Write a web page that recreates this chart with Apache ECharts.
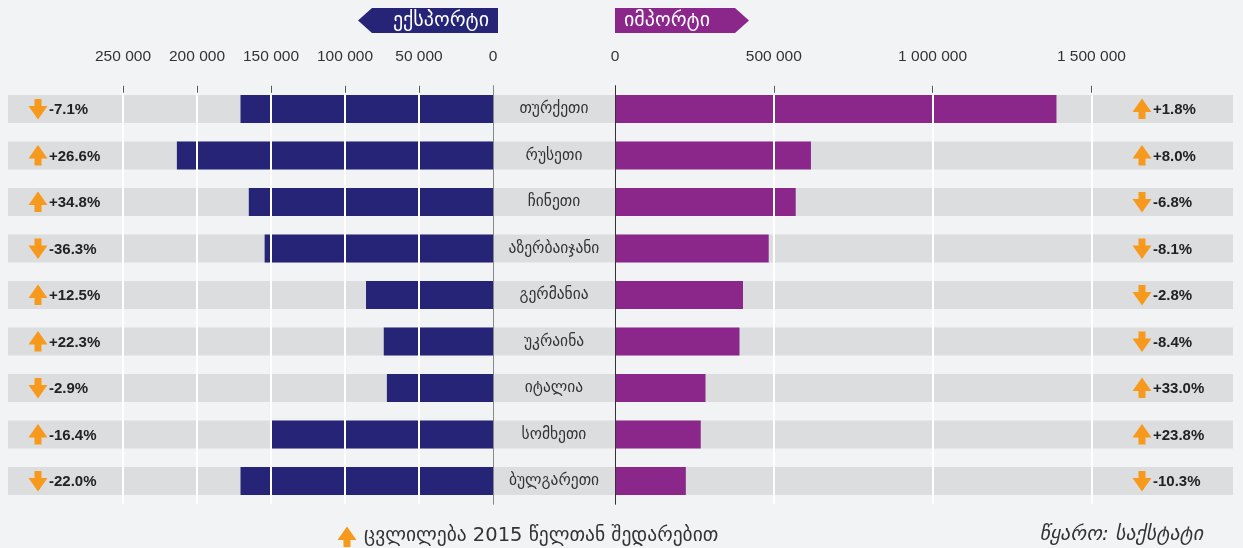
<!DOCTYPE html>
<html>
<head>
<meta charset="utf-8">
<script src="https://cdn.jsdelivr.net/npm/echarts@6/dist/echarts.min.js"></script>
<style>
html, body { margin: 0; padding: 0; background: #f2f3f5; }
#chart { width: 1243px; height: 548px; }
</style>
</head>
<body>
<div id="chart"></div>
<script>
// data
var countries = ['თურქეთი', 'რუსეთი', 'ჩინეთი', 'აზერბაიჯანი', 'გერმანია', 'უკრაინა', 'იტალია', 'სომხეთი', 'ბულგარეთი'];
var exportValues = [170600, 213600, 165000, 154300, 85800, 73800, 71700, 149500, 170600];
var importValues = [1390000, 617000, 569000, 484000, 403000, 392000, 285000, 270000, 223000];
var exportChange = ['-7.1%', '+26.6%', '+34.8%', '-36.3%', '+12.5%', '+22.3%', '-2.9%', '-16.4%', '-22.0%'];
var exportArrow = ['down', 'up', 'up', 'down', 'up', 'up', 'down', 'up', 'down'];
var importChange = ['+1.8%', '+8.0%', '-6.8%', '-8.1%', '-2.8%', '-8.4%', '+33.0%', '+23.8%', '-10.3%'];
var importArrow = ['up', 'up', 'down', 'down', 'down', 'down', 'up', 'up', 'down'];

var NAVY = '#262477';
var PURPLE = '#8b268b';
var ORANGE = '#f7991c';
var ROW = '#dcdddf';
var NUM_FONT = '"Liberation Sans", Arial, sans-serif';
var GEO_FONT = '"DejaVu Sans", sans-serif';

var gridTop = 85.75;
var gridHeight = 418.5;

function fmt(v) {
    return String(v).replace(/\B(?=(\d{3})+(?!\d))/g, ' ');
}

// orange up / down arrow around a centre point
function arrowPoints(cx, cy, dir) {
    var s = dir === 'up' ? 1 : -1;
    return [
        [cx, cy - 10.5 * s], [cx + 9.5, cy + 3 * s], [cx + 3.5, cy + 3 * s],
        [cx + 3.5, cy + 10 * s], [cx - 3.5, cy + 10 * s], [cx - 3.5, cy + 3 * s],
        [cx - 9.5, cy + 3 * s]
    ];
}

// grey row band + change labels at both ends
function renderRow(params, api) {
    var i = api.value(1);
    var cs = params.coordSys;
    var cy = api.coord([0, i])[1];
    var left = cs.x;
    var right = cs.x + cs.width;
    return {
        type: 'group',
        children: [
            { type: 'rect', shape: { x: left, y: cy - 14, width: cs.width, height: 28 }, style: { fill: ROW } },
            { type: 'polygon', shape: { points: arrowPoints(left + 30, cy, exportArrow[i]) }, style: { fill: ORANGE } },
            { type: 'text', style: { text: exportChange[i], x: left + 41, y: cy + 1, verticalAlign: 'middle', fill: '#222', font: 'bold 15px ' + NUM_FONT } },
            { type: 'polygon', shape: { points: arrowPoints(right - 91, cy, importArrow[i]) }, style: { fill: ORANGE } },
            { type: 'text', style: { text: importChange[i], x: right - 80, y: cy + 1, verticalAlign: 'middle', fill: '#222', font: 'bold 15px ' + NUM_FONT } }
        ]
    };
}

var myChart = echarts.init(document.getElementById('chart'));

var option = {
    backgroundColor: '#f2f3f5',
    animation: false,
    grid: [
        { left: 8, right: 10, top: gridTop, height: gridHeight, outerBoundsMode: 'none' },
        { left: 123, right: 750, top: gridTop, height: gridHeight, outerBoundsMode: 'none' },
        { left: 615, right: 151.6, top: gridTop, height: gridHeight, outerBoundsMode: 'none' }
    ],
    xAxis: [
        { gridIndex: 0, type: 'value', min: 0, max: 1, show: false },
        {
            gridIndex: 1, type: 'value', inverse: true, min: 0, max: 250000, interval: 50000,
            position: 'top', z: 3,
            axisLine: { show: false },
            axisTick: { show: true, inside: true, length: 7, lineStyle: { color: '#555' } },
            axisLabel: { margin: 21, fontSize: 15.5, color: '#333', fontFamily: NUM_FONT, formatter: fmt },
            splitLine: { show: true, showMinLine: false, lineStyle: { color: '#fff', width: 2 } }
        },
        {
            gridIndex: 2, type: 'value', min: 0, max: 1500000, interval: 500000,
            position: 'top', z: 3,
            axisLine: { show: false },
            axisTick: { show: true, inside: true, length: 7, lineStyle: { color: '#555' } },
            axisLabel: { margin: 21, fontSize: 15.5, color: '#333', fontFamily: NUM_FONT, formatter: fmt },
            splitLine: { show: true, showMinLine: false, lineStyle: { color: '#fff', width: 2 } }
        }
    ],
    yAxis: [
        { gridIndex: 0, type: 'category', data: countries, inverse: true, show: false },
        {
            gridIndex: 1, type: 'category', data: countries, inverse: true, position: 'right', z: 4,
            axisLine: { show: true, onZero: false, lineStyle: { color: '#888' } },
            axisTick: { show: false },
            axisLabel: { margin: 61, align: 'center', fontSize: 15.5, color: '#333', fontFamily: GEO_FONT }
        },
        {
            gridIndex: 2, type: 'category', data: countries, inverse: true, position: 'left', z: 4,
            axisLine: { show: true, onZero: false, lineStyle: { color: '#333' } },
            axisTick: { show: false },
            axisLabel: { show: false }
        }
    ],
    series: [
        {
            type: 'custom', xAxisIndex: 0, yAxisIndex: 0, z: 1, silent: true,
            renderItem: renderRow,
            encode: { x: 0, y: 1 },
            data: countries.map(function (c, i) { return [0, i]; })
        },
        {
            name: 'ექსპორტი', type: 'bar', xAxisIndex: 1, yAxisIndex: 1, z: 2,
            barWidth: 28, itemStyle: { color: NAVY }, data: exportValues
        },
        {
            name: 'იმპორტი', type: 'bar', xAxisIndex: 2, yAxisIndex: 2, z: 2,
            barWidth: 28, itemStyle: { color: PURPLE }, data: importValues
        }
    ],
    graphic: [
        { type: 'polygon', shape: { points: [[358, 20.5], [372, 8], [498, 8], [498, 33], [372, 33]] }, style: { fill: NAVY } },
        { type: 'text', x: 441, y: 21, style: { text: 'ექსპორტი', align: 'center', verticalAlign: 'middle', fill: '#fff', font: '20px ' + GEO_FONT } },
        { type: 'polygon', shape: { points: [[615, 8], [735, 8], [749, 20.5], [735, 33], [615, 33]] }, style: { fill: PURPLE } },
        { type: 'text', x: 667, y: 21, style: { text: 'იმპორტი', align: 'center', verticalAlign: 'middle', fill: '#fff', font: '20px ' + GEO_FONT } },
        { type: 'polygon', shape: { points: arrowPoints(347, 537, 'up') }, style: { fill: ORANGE } },
        { type: 'text', x: 364, y: 536, style: { text: 'ცვლილება 2015 წელთან შედარებით', verticalAlign: 'middle', fill: '#333', font: '19.5px ' + GEO_FONT } },
        { type: 'text', x: 1203, y: 535, style: { text: 'წყარო: საქსტატი', align: 'right', verticalAlign: 'middle', fill: '#333', font: 'italic 20px ' + GEO_FONT } }
    ]
};

myChart.setOption(option);
</script>
</body>
</html>
